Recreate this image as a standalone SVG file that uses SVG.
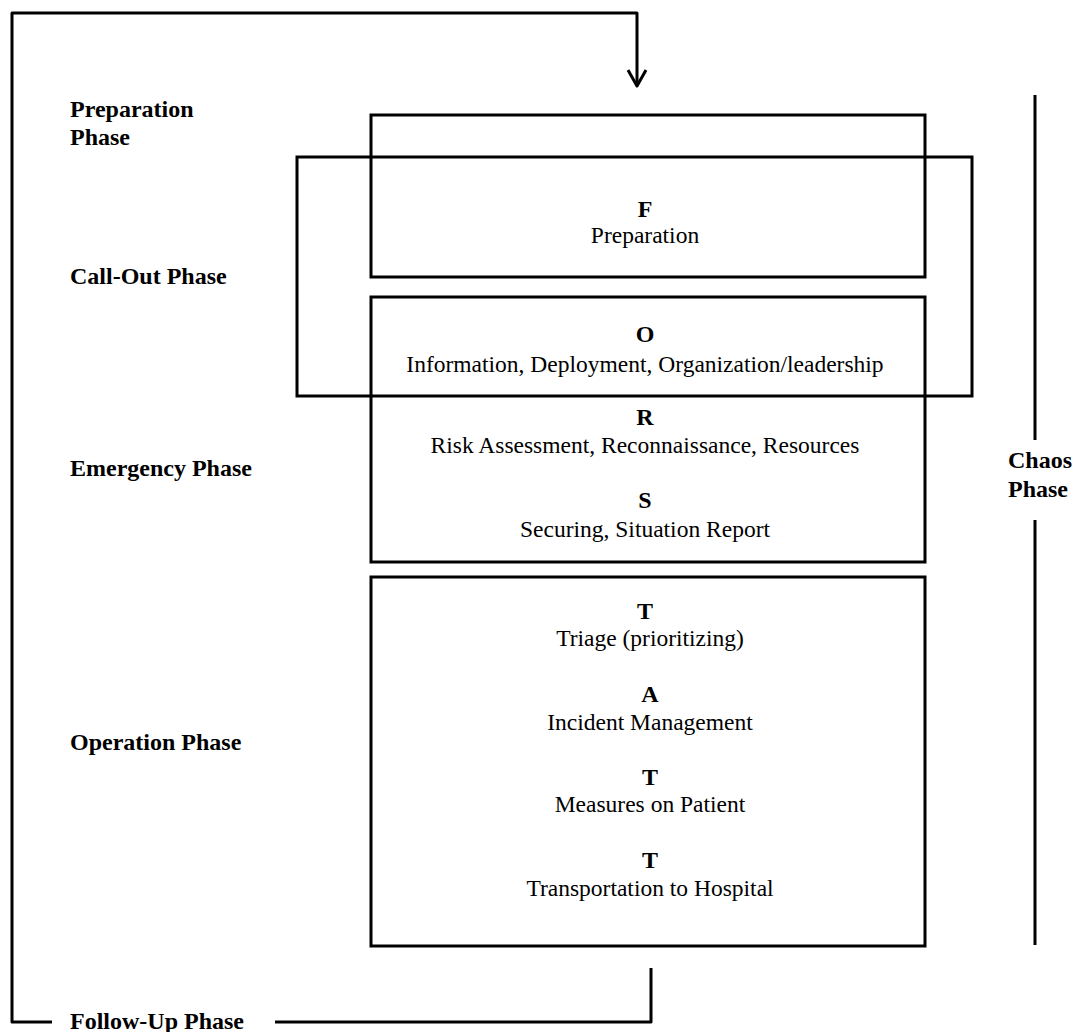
<svg xmlns="http://www.w3.org/2000/svg" width="1075" height="1032" viewBox="0 0 1075 1032">
<style>
.box{fill:none;stroke:#000;stroke-width:3}
.ln{fill:none;stroke:#000;stroke-width:3;stroke-linejoin:round}
.lbl{font-family:"Liberation Serif","Times New Roman",serif;font-weight:bold;font-size:24px;fill:#000}
.hd{font-family:"Liberation Serif","Times New Roman",serif;font-weight:bold;font-size:24px;fill:#000;text-anchor:middle}
.tx{font-family:"Liberation Serif","Times New Roman",serif;font-size:23.5px;fill:#000;text-anchor:middle}
</style>
<rect width="1075" height="1032" fill="#fff"/>
<g id="connectors">
<path class="ln" d="M52,1022 H12 V13 H637 V86"/>
<path class="ln" d="M628,70 L637,86 L646,70"/>
<path class="ln" d="M275,1022 H651 V968"/>
<path class="ln" d="M1035,95 V440 M1035,520 V945"/>
</g>
<g id="box-F"><rect class="box" x="371" y="115" width="554" height="162"/>
<text class="hd" x="645" y="217">F</text><text class="tx" x="645" y="243">Preparation</text></g>
<g id="box-callout"><rect class="box" x="297" y="157" width="675" height="239"/></g>
<g id="box-ORS"><rect class="box" x="371" y="297" width="554" height="265"/>
<text class="hd" x="645" y="342">O</text><text class="tx" x="645" y="372">Information, Deployment, Organization/leadership</text>
<text class="hd" x="645" y="425">R</text><text class="tx" x="645" y="453">Risk Assessment, Reconnaissance, Resources</text>
<text class="hd" x="645" y="508">S</text><text class="tx" x="645" y="537">Securing, Situation Report</text></g>
<g id="box-TATT"><rect class="box" x="371" y="577" width="554" height="369"/>
<text class="hd" x="645" y="619">T</text><text class="tx" x="650" y="646">Triage (prioritizing)</text>
<text class="hd" x="650" y="702">A</text><text class="tx" x="650" y="730">Incident Management</text>
<text class="hd" x="650" y="785">T</text><text class="tx" x="650" y="812">Measures on Patient</text>
<text class="hd" x="650" y="868">T</text><text class="tx" x="650" y="896">Transportation to Hospital</text></g>
<g id="labels">
<text class="lbl" x="70" y="117">Preparation</text><text class="lbl" x="70" y="145">Phase</text>
<text class="lbl" x="70" y="284">Call-Out Phase</text>
<text class="lbl" x="70" y="476">Emergency Phase</text>
<text class="lbl" x="70" y="750">Operation Phase</text>
<text class="lbl" x="70" y="1029">Follow-Up Phase</text>
<text class="lbl" x="1008" y="468">Chaos</text><text class="lbl" x="1008" y="497">Phase</text>
</g>
</svg>
